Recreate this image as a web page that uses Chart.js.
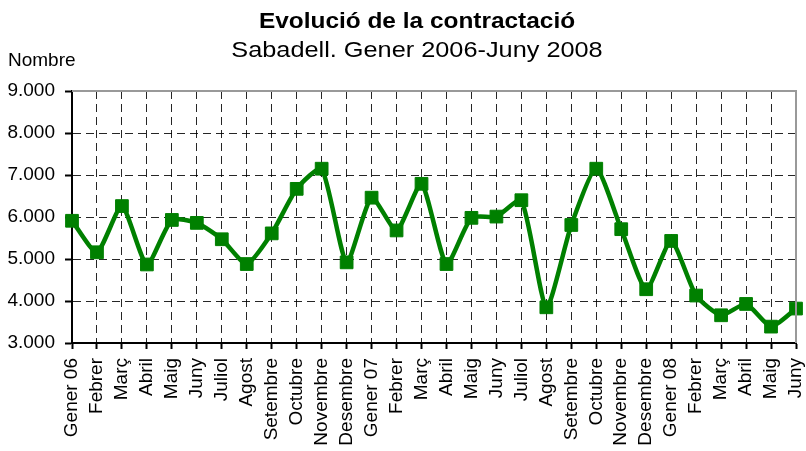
<!DOCTYPE html>
<html>
<head>
<meta charset="utf-8">
<script src="https://cdn.jsdelivr.net/npm/chart.js@4.4.1/dist/chart.umd.min.js"></script>
<style>
  html, body { margin: 0; padding: 0; background: #fff; }
  #wrap { width: 806px; height: 451px; }
</style>
</head>
<body>
<div id="wrap"><canvas id="myChart" width="806" height="451"></canvas></div>
<script>
var mesos = ["Gener 06", "Febrer", "Març", "Abril", "Maig", "Juny", "Juliol", "Agost", "Setembre", "Octubre", "Novembre", "Desembre",
  "Gener 07", "Febrer", "Març", "Abril", "Maig", "Juny", "Juliol", "Agost", "Setembre", "Octubre", "Novembre", "Desembre",
  "Gener 08", "Febrer", "Març", "Abril", "Maig", "Juny"];
var contractes = [5910, 5160, 6260, 4870, 5930, 5860, 5470, 4880, 5610, 6670, 7150, 4920,
  6460, 5680, 6790, 4880, 5980, 6010, 6400, 3850, 5810, 7150, 5710, 4280,
  5430, 4130, 3660, 3930, 3390, 3820];
var titol = "Evolució de la contractació";
var subtitol = "Sabadell. Gener 2006-Juny 2008";
var eixY = "Nombre";

function puntsMil(v) {
  return String(v).replace(/\B(?=(\d{3})+(?!\d))/g, '.');
}

// titles, white background, grey plot border
var decor = {
  id: 'decor',
  beforeDraw: function (chart) {
    var c = chart.ctx;
    c.save();
    c.fillStyle = '#fff';
    c.fillRect(0, 0, chart.width, chart.height);
    c.restore();
  },
  afterDraw: function (chart) {
    var c = chart.ctx, a = chart.chartArea;
    c.save();
    c.strokeStyle = '#999';
    c.lineWidth = 2;
    c.beginPath();
    c.moveTo(a.left, a.top);
    c.lineTo(a.right, a.top);
    c.lineTo(a.right, a.bottom);
    c.stroke();

    c.fillStyle = '#000';
    c.textAlign = 'center';
    c.textBaseline = 'alphabetic';
    c.font = 'bold 22px "Liberation Sans", Arial, sans-serif';
    c.save();
    c.translate(417, 28);
    c.scale(1.11, 1);
    c.fillText(titol, 0, 0);
    c.restore();

    c.font = '22px "Liberation Sans", Arial, sans-serif';
    c.save();
    c.translate(417, 57);
    c.scale(1.15, 1);
    c.fillText(subtitol, 0, 0);
    c.restore();

    c.textAlign = 'left';
    c.font = '19px "Liberation Sans", Arial, sans-serif';
    c.fillText(eixY, 8, 66);
    c.restore();
  }
};

Chart.defaults.font.family = '"Liberation Sans", Arial, sans-serif';
Chart.defaults.color = '#000';

var ctx = document.getElementById("myChart").getContext('2d');
var myChart = new Chart(ctx, {
  type: 'line',
  data: {
    labels: mesos,
    datasets: [{
      label: "Contractes",
      data: contractes,
      borderColor: '#008000',
      backgroundColor: '#008000',
      borderWidth: 4.5,
      tension: 0.2,
      pointStyle: 'rect',
      pointRadius: 9,
      pointBorderWidth: 1,
      pointBackgroundColor: '#008000',
      pointBorderColor: '#008000',
      clip: false
    }]
  },
  options: {
    responsive: false,
    animation: false,
    layout: { padding: { top: 91, right: 6, bottom: 0, left: 0 } },
    plugins: {
      legend: { display: false },
      tooltip: { enabled: false }
    },
    scales: {
      x: {
        offset: false,
        grid: {
          color: 'rgba(0,0,0,0.85)',
          lineWidth: 1,
          tickLength: 6,
          tickColor: '#000',
          tickWidth: 2
        },
        border: { color: '#000', width: 2, dash: [8, 5] },
        ticks: {
          autoSkip: false,
          minRotation: 90,
          maxRotation: 90,
          padding: 9,
          font: { size: 19 }
        },
        afterFit: function (s) {
          s.height = 108;
          s.paddingLeft = 0;
          s.paddingRight = 0;
        }
      },
      y: {
        min: 3000,
        max: 9000,
        grid: {
          color: 'rgba(0,0,0,0.85)',
          lineWidth: 1,
          tickLength: 7,
          tickColor: '#000',
          tickWidth: 2
        },
        border: { color: '#000', width: 2, dash: [8, 5] },
        ticks: {
          stepSize: 1000,
          padding: 10,
          font: { size: 19 },
          callback: function (v) { return puntsMil(v); }
        },
        afterFit: function (s) {
          s.width = 72;
          s.paddingTop = 0;
          s.paddingBottom = 0;
        }
      }
    }
  },
  plugins: [decor]
});
</script>
</body>
</html>
